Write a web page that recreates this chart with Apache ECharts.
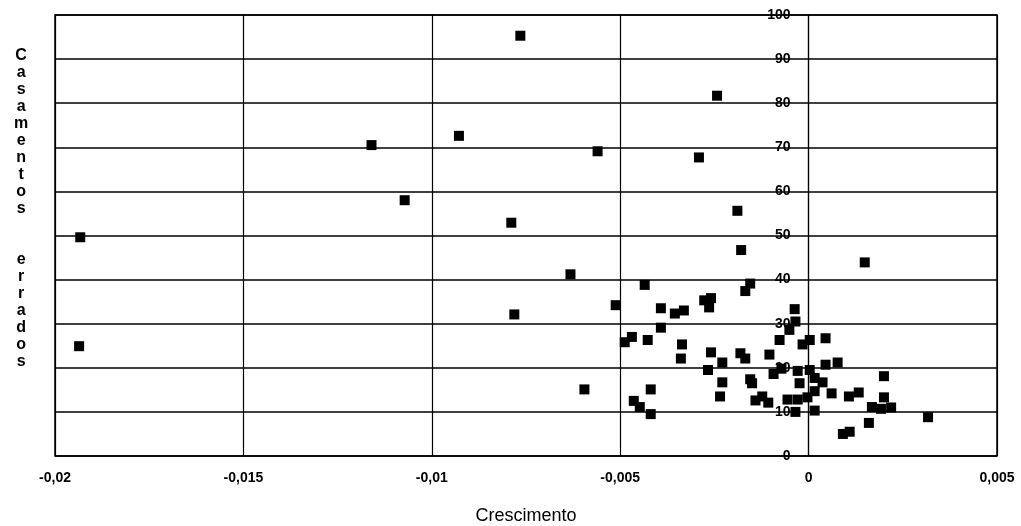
<!DOCTYPE html>
<html>
<head>
<meta charset="utf-8">
<script src="https://cdn.jsdelivr.net/npm/echarts/dist/echarts.min.js"></script>
<style>
  html, body { margin: 0; padding: 0; background: #fff; }
  #chart { width: 1021px; height: 526px; }
</style>
</head>
<body>
<div id="chart"></div>
<script>
// valores
const crescimento = [
  -0.01933, -0.01936, -0.0116, -0.01072, -0.00928, -0.00765, -0.00789, -0.0056,
  -0.00291, -0.00243, -0.00189, -0.00179, 0.00149, -0.00632, -0.00781, -0.00595,
  -0.00512, -0.00435, -0.00392, -0.00355, -0.00331, -0.00392, -0.00488, -0.00469,
  -0.00427, -0.00336, -0.00339, -0.00419, -0.00464, -0.00448, -0.00419, -0.00155,
  -0.00168, -0.00277, -0.00259, -0.00264, -0.00037, -0.00035, -0.00051, -0.00077,
  -0.00016, 0.00003, 0.00045, -0.00259, -0.00229, -0.00181, -0.00168, -0.00104,
  -0.00267, -0.00229, -0.00235, -0.00155, -0.0015, -0.00141, -0.00123, -0.00107,
  -0.00093, -0.00072, -0.00029, -0.00024, 0.00003, -0.00056, -0.00029, -0.00035,
  -0.00003, 0.00016, 0.00045, 0.00077, 0.002, 0.00016, 0.00037, 0.00016,
  0.00061, 0.00107, 0.00133, 0.002, 0.00168, 0.00192, 0.00219, 0.00317,
  0.0016, 0.00091, 0.00109
]
const casamentosErrados = [
  49.6, 24.9, 70.5, 58, 72.6, 95.3, 52.9, 69.1,
  67.7, 81.7, 55.6, 46.7, 43.9, 41.2, 32.1, 15.1,
  34.2, 38.8, 33.5, 32.3, 33.0, 29.1, 25.8, 27.0,
  26.3, 25.3, 22.1, 15.1, 12.5, 11.1, 9.5, 39.1,
  37.4, 35.3, 35.8, 33.7, 33.3, 30.5, 28.6, 26.3,
  25.3, 26.3, 26.7, 23.5, 21.2, 23.3, 22.1, 23.0,
  19.5, 16.7, 13.5, 17.4, 16.5, 12.6, 13.5, 12.1,
  18.6, 19.8, 19.3, 16.5, 19.5, 12.8, 12.8, 10.0,
  13.3, 10.3, 20.7, 21.2, 18.1, 17.7, 16.7, 14.7,
  14.2, 13.5, 14.4, 13.3, 11.1, 10.7, 11.0, 8.8,
  7.5, 5.0, 5.5
]
const xMin = -0.02
const xMax = 0.005
const xStep = 0.005
const yMin = 0
const yMax = 100
const yStep = 10

const points = crescimento.map((x, i) => [x, casamentosErrados[i]])

const fontFamily = '"Liberation Sans", Arial, sans-serif'
const gridLeft = 55
const gridRight = 24
const gridWidth = 1021 - gridLeft - gridRight
// o eixo vertical cruza em x = 0
const yAxisOffset = -gridWidth * (0 - xMin) / (xMax - xMin)

const chart = echarts.init(document.getElementById('chart'))
chart.setOption({
  backgroundColor: '#fff',
  animation: false,
  grid: {
    left: gridLeft,
    right: gridRight,
    top: 15,
    bottom: 70,
    outerBoundsMode: 'none',
    containLabel: false,
    show: true,
    borderColor: '#000',
    borderWidth: 1.5
  },
  xAxis: {
    type: 'value',
    min: xMin,
    max: xMax,
    interval: xStep,
    name: 'Crescimento',
    nameLocation: 'middle',
    nameGap: 51,
    nameTextStyle: {
      color: '#000',
      fontSize: 18,
      fontFamily
    },
    axisLine: { show: false, onZero: false },
    axisTick: { show: false },
    axisLabel: {
      color: '#000',
      fontSize: 14,
      fontWeight: 'bold',
      fontFamily,
      margin: 15,
      formatter: v => String(Math.round(v * 1000) / 1000).replace('.', ',')
    },
    splitLine: {
      lineStyle: { color: '#000', width: 1.2 }
    }
  },
  yAxis: {
    type: 'value',
    min: yMin,
    max: yMax,
    interval: yStep,
    position: 'left',
    offset: yAxisOffset,
    axisLine: {
      show: true,
      onZero: false,
      lineStyle: { color: '#000', width: 1.2 }
    },
    axisTick: { show: false },
    axisLabel: {
      color: '#000',
      fontSize: 14,
      fontWeight: 'bold',
      fontFamily,
      margin: 18
    },
    splitLine: {
      lineStyle: { color: '#000', width: 1.5 }
    }
  },
  graphic: [
    {
      type: 'text',
      left: 14,
      top: 47,
      style: {
        text: 'Casamentos  errados'.split('').join('\n'),
        fill: '#000',
        font: 'bold 16px ' + fontFamily,
        lineHeight: 17,
        textAlign: 'center'
      }
    }
  ],
  series: [
    {
      type: 'scatter',
      data: points,
      symbol: 'rect',
      symbolSize: 10,
      itemStyle: { color: '#000', opacity: 1 }
    }
  ]
})
</script>
</body>
</html>
